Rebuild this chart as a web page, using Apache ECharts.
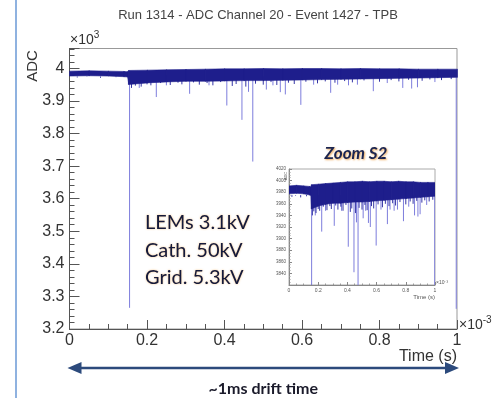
<!DOCTYPE html>
<html>
<head>
<meta charset="utf-8">
<script src="https://cdn.jsdelivr.net/npm/echarts@6/dist/echarts.min.js"></script>
<style>
  html, body { margin: 0; padding: 0; background: #fff; }
  #main { width: 498px; height: 398px; }
</style>
</head>
<body>
<div id="main"></div>
<script>
// trace envelope (ADC counts vs time in ms)
var bandT  = [0, 0.05, 0.1, 0.14, 0.15, 0.152, 0.2, 0.25, 0.3, 0.35, 0.4, 0.45, 0.5, 0.55, 0.6, 0.65, 0.7, 0.75, 0.8, 0.85, 0.9, 0.95, 1];
var bandHi = [3990, 3991, 3990, 3989, 3988, 3992, 3993, 3994, 3995, 3996, 3997, 3997, 3998, 3997, 3998, 3998, 3997, 3998, 3997, 3997, 3996, 3996, 3996];
var bandLo = [3978, 3979, 3978, 3976, 3975, 3952, 3957, 3960, 3962, 3962, 3963, 3964, 3964, 3965, 3966, 3967, 3968, 3969, 3970, 3971, 3972, 3973, 3974];

// short dark dips just under the band
var fringeT   = [0.02, 0.045, 0.08, 0.12, 0.16, 0.17, 0.185, 0.2, 0.21, 0.235, 0.26, 0.28, 0.29, 0.32, 0.335, 0.355, 0.37, 0.39, 0.42, 0.43, 0.455, 0.48, 0.5, 0.52, 0.535, 0.565, 0.58, 0.61, 0.64, 0.66, 0.685, 0.71, 0.73, 0.76, 0.8, 0.83, 0.85, 0.875, 0.91, 0.93, 0.96, 0.985];
var fringeMin = [3972, 3974, 3971, 3973, 3940, 3947, 3944, 3951, 3948, 3955, 3949, 3956, 3951, 3957, 3950, 3955, 3948, 3958, 3946, 3952, 3944, 3953, 3950, 3958, 3949, 3956, 3952, 3959, 3954, 3960, 3956, 3961, 3957, 3963, 3959, 3964, 3960, 3965, 3962, 3966, 3964, 3967];

// S2 spikes
var spikeT   = [0.155, 0.18, 0.224, 0.25, 0.31, 0.36, 0.406, 0.445, 0.462, 0.473, 0.508, 0.525, 0.544, 0.557, 0.597, 0.63, 0.674, 0.692, 0.72, 0.743, 0.784, 0.82, 0.86, 0.883, 0.898, 0.943, 0.998];
var spikeMin = [3265, 3940, 3912, 3948, 3922, 3948, 3886, 3842, 3928, 3714, 3935, 3948, 3927, 3920, 3888, 3950, 3925, 3950, 3948, 3950, 3930, 3955, 3940, 3938, 3942, 3958, 3262];

var xTicks = [0, 0.2, 0.4, 0.6, 0.8, 1];

var FONT = 'Liberation Sans, Arial, sans-serif';
var CAL = 'Lato, Open Sans, sans-serif';
var BAND = '#1e1e8c';
var FRINGE = '#3434a4';
var SPIKE = '#7d7ddc';

// one band segment per item: [t0, lo0, hi0, t1, lo1, hi1]
var bandData = [];
for (var i = 0; i < bandT.length - 1; i++) {
  bandData.push([bandT[i], bandLo[i], bandHi[i], bandT[i + 1], bandLo[i + 1], bandHi[i + 1]]);
}
var fringeData = fringeT.map(function (t, i) { return [t, 3975, fringeMin[i]]; });
var spikeData = spikeT.map(function (t, i) { return [t, 3980, spikeMin[i]]; });

function drop(color) {
  return function (params, api) {
    var cs = params.coordSys;
    var a = api.coord([api.value(0), api.value(1)]);
    var b = api.coord([api.value(0), api.value(2)]);
    var yb = Math.min(b[1], cs.y + cs.height);
    return {
      type: 'line',
      shape: { x1: a[0], y1: a[1], x2: b[0], y2: yb },
      style: { stroke: color, lineWidth: 1 }
    };
  };
}

function bandItem(params, api) {
  var p0 = api.coord([api.value(0), api.value(1)]);
  var q0 = api.coord([api.value(0), api.value(2)]);
  var p1 = api.coord([api.value(3), api.value(4)]);
  var q1 = api.coord([api.value(3), api.value(5)]);
  return {
    type: 'polygon',
    shape: { points: [[q0[0], q0[1] - 0.5], [q1[0] + 0.5, q1[1] - 0.5], [p1[0] + 0.5, p1[1] + 0.5], [p0[0], p0[1] + 0.5]] },
    style: { fill: BAND, stroke: BAND, lineWidth: 0.6 }
  };
}

function traceSeries(idx) {
  return [
    { type: 'custom', xAxisIndex: idx, yAxisIndex: idx, renderItem: drop(SPIKE), data: spikeData,
      encode: { x: 0, y: [1, 2] }, clip: true, z: 2, silent: true },
    { type: 'custom', xAxisIndex: idx, yAxisIndex: idx, renderItem: drop(FRINGE), data: fringeData,
      encode: { x: 0, y: [1, 2] }, clip: true, z: 3, silent: true },
    { type: 'custom', xAxisIndex: idx, yAxisIndex: idx, renderItem: bandItem, data: bandData,
      encode: { x: [0, 3], y: [1, 2, 4, 5] }, clip: true, z: 4, silent: true }
  ];
}

var chart = echarts.init(document.getElementById('main'));
chart.setOption({
  animation: false,
  grid: [
    { left: 69.5, right: 41, top: 48.5, bottom: 69, show: true, borderColor: '#999', borderWidth: 1 },
    { left: 289, right: 63, top: 169, bottom: 113, show: true, borderColor: '#aaa', borderWidth: 1, backgroundColor: '#fff' }
  ],
  xAxis: [
    { type: 'value', gridIndex: 0, min: 0, max: 1, interval: 0.2,
      axisLine: { lineStyle: { color: '#555' } },
      axisTick: { inside: true, length: 9, lineStyle: { color: '#555' } },
      minorTick: { show: true, splitNumber: 4, length: 5, lineStyle: { color: '#555' } },
      splitLine: { show: false },
      axisLabel: { color: '#333', fontSize: 16, fontFamily: FONT, margin: 4,
        formatter: function (v) { var r = Math.round(v * 10) / 10; return xTicks.indexOf(r) >= 0 ? String(r) : ''; } } },
    { type: 'value', gridIndex: 1, min: 0, max: 1, interval: 0.2,
      axisLine: { lineStyle: { color: '#888' } },
      axisTick: { inside: true, length: 3, lineStyle: { color: '#888' } },
      minorTick: { show: true, splitNumber: 4, length: 1.5, lineStyle: { color: '#999' } },
      splitLine: { show: false },
      axisLabel: { color: '#555', fontSize: 5, fontFamily: FONT, margin: 3,
        formatter: function (v) { return String(Math.round(v * 10) / 10); } } }
  ],
  yAxis: [
    { type: 'value', gridIndex: 0, min: 3200, max: 4061, interval: 100,
      axisLine: { lineStyle: { color: '#555' } },
      axisTick: { inside: true, length: 10, lineStyle: { color: '#555' } },
      minorTick: { show: true, splitNumber: 5, length: 5, lineStyle: { color: '#555' } },
      splitLine: { show: false },
      axisLabel: { color: '#333', fontSize: 16, fontFamily: FONT, margin: 5, showMaxLabel: false,
        formatter: function (v) { return v % 100 === 0 ? String(v / 1000) : ''; } } },
    { type: 'value', gridIndex: 1, min: 3820, max: 4020, interval: 20,
      axisLine: { lineStyle: { color: '#888' } },
      axisTick: { inside: true, length: 3, lineStyle: { color: '#888' } },
      minorTick: { show: true, splitNumber: 4, length: 1.5, lineStyle: { color: '#999' } },
      splitLine: { show: false },
      axisLabel: { color: '#555', fontSize: 4.5, fontFamily: FONT, margin: 3, showMinLabel: false,
        formatter: function (v) { return String(v); } } }
  ],
  series: traceSeries(0).concat(traceSeries(1))
});

// annotations, anchored on the axis scales where they follow the data
var x0 = chart.convertToPixel({ xAxisIndex: 0 }, 0);
var x1 = chart.convertToPixel({ xAxisIndex: 0 }, 1);
var ix1 = chart.convertToPixel({ xAxisIndex: 1 }, 1);
var ARROW = '#2c4a7c';
var ay = 368;

chart.setOption({
  graphic: [
    { type: 'rect', shape: { x: 15, y: 0, width: 2, height: 398 }, style: { fill: '#8fb2e0' } },
    { type: 'text', x: 258, y: 15, style: { text: 'Run 1314 - ADC Channel 20 - Event 1427 - TPB',
      font: '13px ' + FONT, fill: '#444', align: 'center', verticalAlign: 'middle' } },
    { type: 'text', x: 33, y: 66, rotation: Math.PI / 2, style: { text: 'ADC',
      font: '15px ' + FONT, fill: '#333', align: 'center', verticalAlign: 'middle' } },
    { type: 'text', x: 70, y: 40, style: { text: '{a|×10}{b|3}', verticalAlign: 'middle',
      rich: { a: { fontSize: 14, fontFamily: FONT, fill: '#333' },
              b: { fontSize: 10, fontFamily: FONT, fill: '#333', padding: [0, 0, 10, 0] } } } },
    { type: 'text', x: x1 + 2, y: 325, style: { text: '{a|×10}{b|-3}', verticalAlign: 'middle',
      rich: { a: { fontSize: 14, fontFamily: FONT, fill: '#333' },
              b: { fontSize: 10, fontFamily: FONT, fill: '#333', padding: [0, 0, 10, 0] } } } },
    { type: 'text', x: x1, y: 357, style: { text: 'Time (s)', font: '16px ' + FONT, fill: '#333',
      align: 'right', verticalAlign: 'middle' } },

    // inset decorations
    { type: 'text', x: 356, y: 154, style: { text: 'Zoom S2', font: 'italic bold 17px ' + CAL,
      fill: '#1b2550', align: 'center', verticalAlign: 'middle',
      textShadowColor: 'rgba(235,150,50,0.8)', textShadowBlur: 2, textShadowOffsetX: 1, textShadowOffsetY: 1 } },
    { type: 'text', x: 286, y: 176, rotation: Math.PI / 2, style: { text: 'ADC', font: '4px ' + FONT,
      fill: '#555', align: 'center', verticalAlign: 'middle' } },
    { type: 'text', x: ix1 + 1, y: 283, style: { text: '×10⁻³', font: '5px ' + FONT, fill: '#555',
      verticalAlign: 'middle' } },
    { type: 'text', x: ix1, y: 297, style: { text: 'Time (s)', font: '6px ' + FONT, fill: '#555',
      align: 'right', verticalAlign: 'middle' } },

    // HV settings box
    { type: 'text', x: 145, y: 223, style: { text: 'LEMs 3.1kV', font: '20px ' + CAL, fill: '#141a3c',
      verticalAlign: 'middle', textShadowColor: 'rgba(240,160,60,0.7)', textShadowBlur: 2 } },
    { type: 'text', x: 145, y: 251, style: { text: 'Cath. 50kV', font: '20px ' + CAL, fill: '#141a3c',
      verticalAlign: 'middle', textShadowColor: 'rgba(240,160,60,0.7)', textShadowBlur: 2 } },
    { type: 'text', x: 145, y: 278, style: { text: 'Grid. 5.3kV', font: '20px ' + CAL, fill: '#141a3c',
      verticalAlign: 'middle', textShadowColor: 'rgba(240,160,60,0.7)', textShadowBlur: 2 } },

    // drift time arrow
    { type: 'line', shape: { x1: x0 + 8, y1: ay, x2: x1 - 8, y2: ay }, style: { stroke: ARROW, lineWidth: 2.5 } },
    { type: 'polygon', shape: { points: [[x0 - 2, ay], [x0 + 12, ay - 6], [x0 + 12, ay + 6]] }, style: { fill: ARROW } },
    { type: 'polygon', shape: { points: [[x1 + 2, ay], [x1 - 12, ay - 6], [x1 - 12, ay + 6]] }, style: { fill: ARROW } },
    { type: 'text', x: (x0 + x1) / 2, y: 389, style: { text: '~1ms drift time', font: 'bold 16px ' + CAL,
      fill: '#1a1a2a', align: 'center', verticalAlign: 'middle' } }
  ]
});
</script>
</body>
</html>
